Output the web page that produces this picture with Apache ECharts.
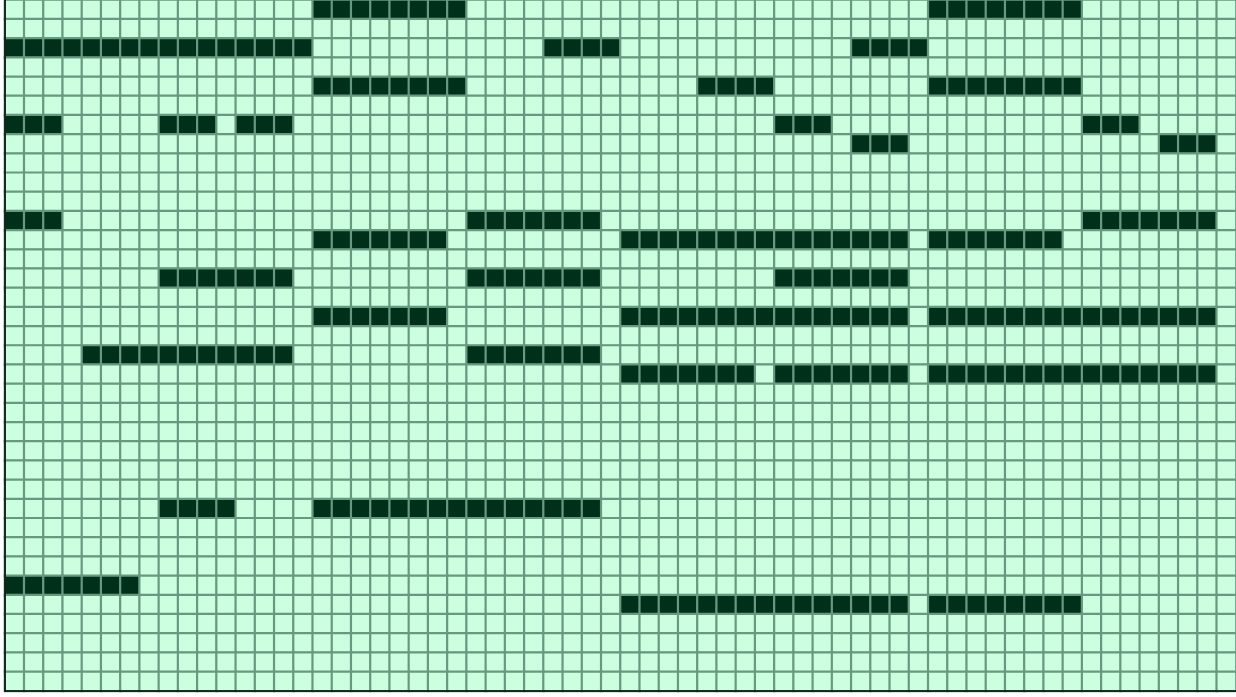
<!DOCTYPE html>
<html>
<head>
<meta charset="utf-8">
<script src="https://cdn.jsdelivr.net/npm/echarts@6/dist/echarts.min.js"></script>
<style>html,body{margin:0;padding:0;background:#fff}#c{width:1236px;height:697px}</style>
</head>
<body>
<div id="c"></div>
<script>
// Grid size
const nCols = 64;
const nRows = 36;
// Filled runs: row index (from top), first column, last column
const runRow   = [0, 0, 2, 2, 2, 4, 4, 4, 6, 6, 6, 6, 6, 7, 7, 11, 11, 11, 12, 12, 12, 14, 14, 14, 16, 16, 16, 18, 18, 19, 19, 19, 26, 26, 30, 31, 31];
const runStart = [16, 48, 0, 28, 44, 16, 36, 48, 0, 8, 12, 40, 56, 44, 60, 0, 24, 56, 16, 32, 48, 8, 24, 40, 16, 32, 48, 4, 24, 32, 40, 48, 8, 16, 0, 32, 48];
const runEnd   = [23, 55, 15, 31, 47, 23, 39, 55, 2, 10, 14, 42, 58, 46, 62, 2, 30, 62, 22, 46, 54, 14, 30, 46, 22, 46, 62, 14, 30, 38, 46, 62, 11, 30, 6, 46, 55];

const xCats = Array.from({length: nCols}, (_, i) => String(i));
const yCats = Array.from({length: nRows}, (_, i) => String(i));

const filled = new Set();
for (let k = 0; k < runRow.length; k++) {
  for (let c = runStart[k]; c <= runEnd[k]; c++) filled.add(runRow[k] * nCols + c);
}
const data = [];
for (let r = 0; r < nRows; r++) {
  for (let c = 0; c < nCols; c++) {
    data.push([c, r, filled.has(r * nCols + c) ? 1 : 0]);
  }
}

const chart = echarts.init(document.getElementById('c'), null, {renderer: 'canvas'});
chart.setOption({
  animation: false,
  grid: {left: 5, top: -2, width: 1232, height: 693, containLabel: false},
  xAxis: {
    type: 'category', data: xCats, position: 'bottom', z: 10,
    axisLine: {show: true, lineStyle: {color: '#000', width: 1.5}},
    axisTick: {show: false}, axisLabel: {show: false}, splitLine: {show: false}
  },
  yAxis: {
    type: 'category', data: yCats, inverse: true, position: 'left', z: 10,
    axisLine: {show: true, lineStyle: {color: '#000', width: 1.5}},
    axisTick: {show: false}, axisLabel: {show: false}, splitLine: {show: false}
  },
  visualMap: {
    show: false, type: 'piecewise', dimension: 2,
    pieces: [{value: 0, color: '#ccffe0'}, {value: 1, color: '#00301a'}]
  },
  series: [{
    type: 'heatmap', data: data,
    itemStyle: {borderColor: '#669a80', borderWidth: 2.2},
    emphasis: {disabled: true}
  }]
});
</script>
</body>
</html>
